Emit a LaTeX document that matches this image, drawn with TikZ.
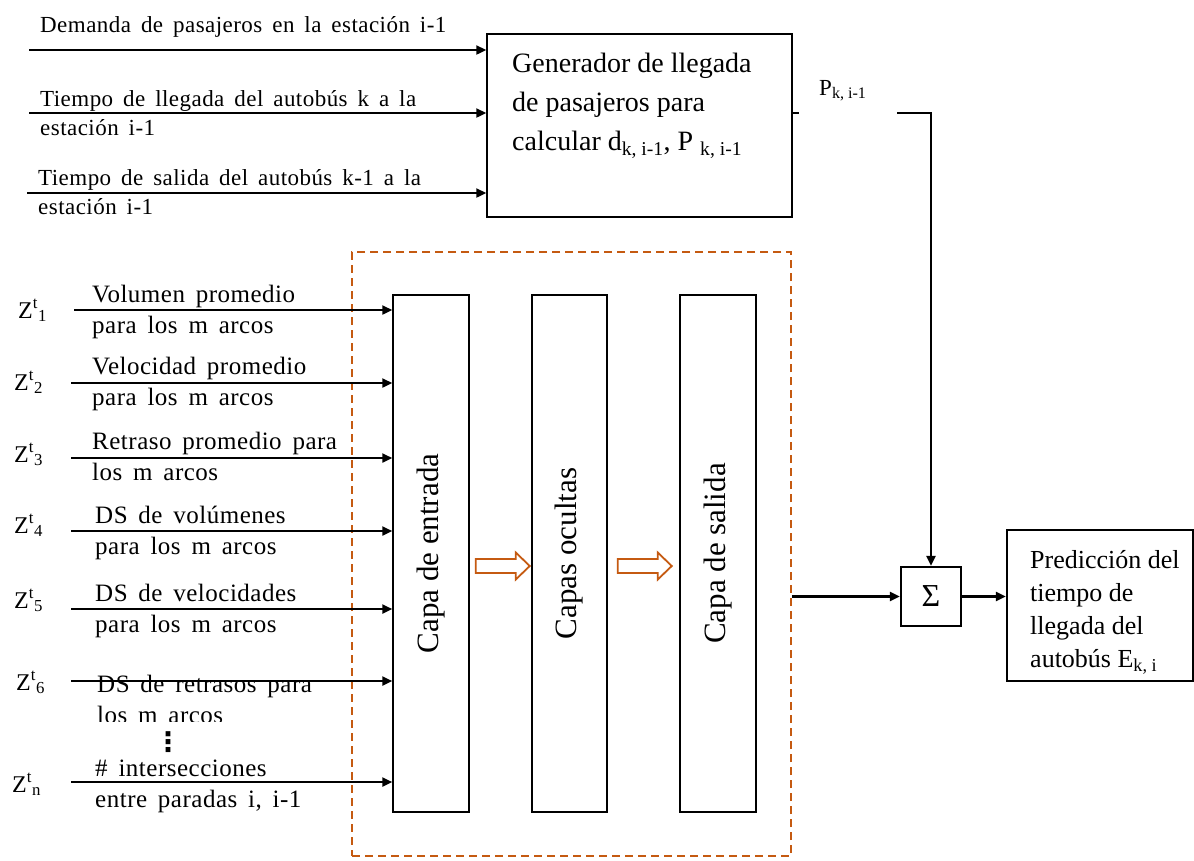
\documentclass[tikz,border=0pt]{standalone}
\usepackage{fontspec}
\setmainfont{Liberation Serif}
\newfontfamily\topfont[WordSpace=1.8,LetterSpace=2]{Liberation Serif}
\newfontfamily\lbfont[WordSpace=1.6,LetterSpace=2]{Liberation Serif}
\newfontfamily\symfont{DejaVu Sans}
\usetikzlibrary{arrows.meta,calc}
\definecolor{dorange}{HTML}{C55A11}
\begin{document}
\begin{tikzpicture}[x=1pt,y=-1pt,
  arr/.style={line width=2.3pt,-{Triangle[length=10pt,width=9pt]}},
  box/.style={draw,line width=1.5pt,inner sep=0pt},
  toplbl/.style={anchor=north west,inner sep=0pt,align=left,font=\topfont\fontsize{23}{29}\selectfont},
  lbl/.style={anchor=north west,inner sep=0pt,align=left,font=\lbfont\fontsize{25}{31}\selectfont},
  zlbl/.style={anchor=base west,inner sep=0pt,font=\fontsize{24}{28}\selectfont},
  layer/.style={box,minimum width=76pt,minimum height=517pt,font=\fontsize{31}{34}\selectfont},
  hollow/.style={draw=dorange,line width=1.8pt,fill=white,line join=miter},
]
\useasboundingbox (0,0) rectangle (1194,860);

% ---------- generator ----------
\node[box,minimum width=305pt,minimum height=183pt] (gen) at (639.5,125.5) {};
\node[anchor=north west,inner sep=0pt,align=left,font=\fontsize{28}{39}\selectfont] (gent) at (512,44.7)
  {\strut Generador de llegada\\\strut de pasajeros para\\\strut calcular d\textsubscript{k, i-1}, P \textsubscript{k, i-1}};

\node[toplbl] (l1) at (40,11.7) {\strut Demanda de pasajeros en la estación i-1};
\node[toplbl] (l2) at (40,85.7) {\strut Tiempo de llegada del autobús k a la\\\strut estación i-1};
\node[toplbl] (l3) at (38,164.7) {\strut Tiempo de salida del autobús k-1 a la\\\strut estación i-1};

\coordinate (a1) at (29,50);
\coordinate (a2) at (29,113);
\coordinate (a3) at (27,193);
\draw[arr] (a1) -- (a1 -| gen.west);
\draw[arr] (a2) -- (a2 -| gen.west);
\draw[arr] (a3) -- (a3 -| gen.west);

% ---------- dashed network box ----------
\node[draw=dorange,dash pattern=on 8pt off 5pt,line width=2pt,minimum width=439pt,minimum height=604pt,inner sep=0pt] (nn) at (571.5,554) {};

\node[layer] (inL) at (431,553.5) {\rotatebox{90}{Capa de entrada}};
\node[layer,minimum width=75pt] (hid) at (569.5,553.5) {\rotatebox{90}{Capas ocultas}};
\node[layer] (outL) at (718,553.5) {\rotatebox{90}{Capa de salida}};

\path (inL.east) ++(6,12.5) coordinate (h1);
\path (hid.east) ++(10,12.5) coordinate (h2);
\draw[hollow] (h1) ++(0,-7) -- ++(40,0) -- ++(0,-6.5) -- ++(14,13.5) -- ++(-14,13.5) -- ++(0,-6.5) -- ++(-40,0) -- cycle;
\draw[hollow] (h2) ++(0,-7) -- ++(40,0) -- ++(0,-6.5) -- ++(14,13.5) -- ++(-14,13.5) -- ++(0,-6.5) -- ++(-40,0) -- cycle;

% ---------- inputs ----------
\node[zlbl] (z1) at (18,318) {Z\textsuperscript{t}\textsubscript{1}};
\node[zlbl] (z2) at (14,390) {Z\textsuperscript{t}\textsubscript{2}};
\node[zlbl] (z3) at (14,462) {Z\textsuperscript{t}\textsubscript{3}};
\node[zlbl] (z4) at (14,533) {Z\textsuperscript{t}\textsubscript{4}};
\node[zlbl] (z5) at (14,608) {Z\textsuperscript{t}\textsubscript{5}};
\node[zlbl] (z6) at (16,690) {Z\textsuperscript{t}\textsubscript{6}};
\node[zlbl] (zn) at (12,792) {Z\textsuperscript{t}\textsubscript{n}};

\node[lbl] (v1) at (92,280.3) {\strut Volumen promedio\\\strut para los m arcos};
\node[lbl] (v2) at (92,352.3) {\strut Velocidad promedio\\\strut para los m arcos};
\node[lbl] (v3) at (92,427.3) {\strut Retraso promedio para\\\strut los m arcos};
\node[lbl] (v4) at (95,501.3) {\strut DS de volúmenes\\\strut para los m arcos};
\node[lbl] (v5) at (95,579.3) {\strut DS de velocidades\\\strut para los m arcos};
\begin{scope}
  \clip (0,640) rectangle (380,721);
  \node[lbl] (v6) at (97,670.3) {\strut DS de retrasos para\\\smash{los m arcos}};
\end{scope}
\node[lbl] (v7) at (95,754.3) {\strut \# intersecciones\\\strut entre paradas i, i-1};
\node[inner sep=0pt,font=\symfont\bfseries\fontsize{27}{27}\selectfont] (dots) at (168,742) {⋮};

\coordinate (s1) at (74,310);
\coordinate (s2) at (71,383);
\coordinate (s3) at (71,458);
\coordinate (s4) at (71,531);
\coordinate (s5) at (71,609);
\coordinate (s6) at (71,681);
\coordinate (s7) at (71,782);
\foreach \s in {s1,s2,s3,s4,s5,s6,s7}
  \draw[arr] (\s) -- (\s -| inL.west);

% ---------- output ----------
\node[draw,line width=2.2pt,minimum width=60pt,minimum height=59pt,inner sep=0pt,font=\fontsize{32}{34}\selectfont] (sig) at (931,596.5) {Σ};
\node[draw,line width=2.2pt,minimum width=186pt,minimum height=151pt,inner sep=0pt] (res) at (1100,605.5) {};
\node[anchor=north west,inner sep=0pt,align=left,font=\fontsize{26}{33}\selectfont] (rest) at (1030,544.9)
  {\strut Predicción del\\\strut tiempo de\\\strut llegada del\\\strut autobús E\textsubscript{k, i}};

\node[anchor=base west,inner sep=0pt,font=\fontsize{23}{27}\selectfont] (pl) at (819,95) {P\textsubscript{k, i-1}};
\coordinate (p1) at (799,113);
\coordinate (p2) at (897,113);
\draw[line width=2pt] (gen.east |- p1) -- (p1);
\draw[arr] (p2) -- (sig.north |- p2) -- (sig.north);

\draw[arr] (nn.east |- sig.west) -- (sig.west);
\draw[arr] (sig.east) -- (sig.east -| res.west);
\end{tikzpicture}
\end{document}
